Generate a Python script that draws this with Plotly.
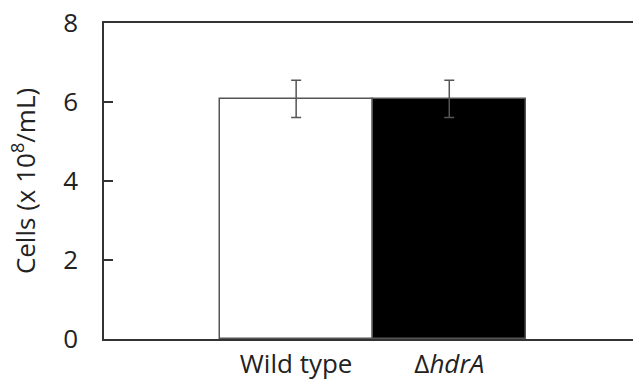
import plotly.graph_objects as go

categories = ["Wild type", "Δ<i>hdrA</i>"]
values = [6.08, 6.08]
errors = [0.47, 0.47]
y_ticks = [0, 2, 4, 6, 8]

fig = go.Figure()
fig.add_trace(go.Bar(
    x=[0, 1], y=values,
    width=1.0,
    marker=dict(color=["white", "black"], line=dict(color="#555555", width=1.5)),
    error_y=dict(type="data", array=errors, visible=True, color="#555555", thickness=1.5, width=5),
))

fig.update_layout(
    width=633, height=383,
    margin=dict(l=104, r=0, t=23, b=44),
    plot_bgcolor="white", paper_bgcolor="white",
    showlegend=False,
    font=dict(family="Open Sans", color="#222222"),
    bargap=0,
)
fig.update_xaxes(
    range=[-1.255, 2.2],
    tickmode="array", tickvals=[0, 1], ticktext=categories,
    tickfont=dict(size=26),
    ticklabelstandoff=1,
    automargin=False,
    showline=True, linecolor="#333333", linewidth=1.5, mirror=True,
    ticks="", showgrid=False, zeroline=False,
)
fig.update_yaxes(
    range=[0, 8],
    tickmode="array", tickvals=y_ticks,
    tickfont=dict(size=26),
    ticklabelstandoff=19,
    automargin=False,
    ticks="inside", ticklen=9, tickwidth=1.5, tickcolor="#333333",
    showline=True, linecolor="#333333", linewidth=1.5,
    showgrid=False, zeroline=False,
    title=dict(text="Cells (x 10<sup>8</sup>/mL)", font=dict(size=26), standoff=20),
)
fig.write_html(
    "out.html",
    config={"displayModeBar": False},
    post_script="document.body.style.margin='0';document.body.style.overflow='hidden';",
)
